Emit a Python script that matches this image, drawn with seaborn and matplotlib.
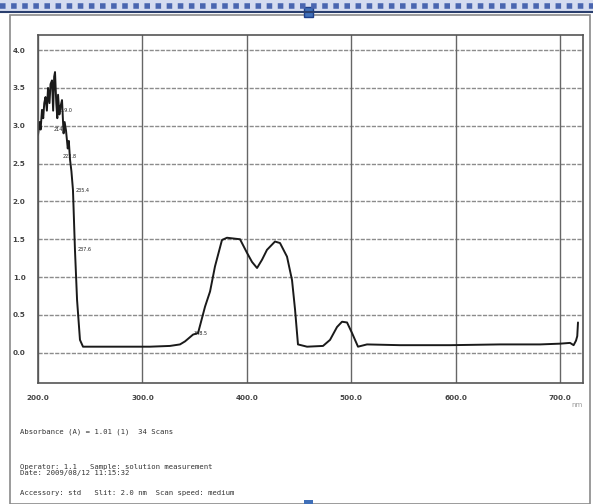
import matplotlib
matplotlib.use("Agg")
import matplotlib.pyplot as plt
import matplotlib.patches as mpatches
from matplotlib.lines import Line2D
import numpy as np
import pandas as pd
import seaborn as sns

# ---- data ----
wavelength_nm = [200.0, 201.5, 202.5, 203.8, 205.0, 206.0, 207.2, 208.5, 209.6, 211.0,
                 212.0, 213.4, 214.5, 215.5, 216.3, 217.5, 218.5, 219.2, 220.5, 221.5,
                 223.0, 224.5, 225.5, 226.8, 228.5, 229.5, 230.7, 232.0, 233.5,
                 235.4, 237.4, 240.2, 243.1, 259.4, 307.3, 326.4, 336.0, 340.8, 348.5,
                 353.3, 360.0, 364.8, 369.5, 376.2, 381.0, 393.5, 400.2, 405.0, 409.8,
                 414.6, 419.3, 427.0, 431.8, 438.5, 443.3, 446.2, 449.0, 457.7, 473.0,
                 479.7, 486.4, 491.2, 496.0, 500.8, 506.5, 515.1, 546.7, 594.6, 642.5,
                 680.8, 700.0, 709.6, 713.0, 715.3, 716.5, 717.2]
absorbance = [2.88, 3.05, 2.95, 3.21, 3.10, 3.30, 3.38, 3.20, 3.50, 3.30,
              3.55, 3.60, 3.20, 3.65, 3.71, 3.30, 3.10, 3.41, 3.15, 3.25,
              3.34, 2.90, 3.05, 2.94, 2.70, 2.80, 2.55, 2.40, 2.15,
              1.36, 0.70, 0.17, 0.08, 0.08, 0.08, 0.09, 0.11, 0.15, 0.24,
              0.26, 0.61, 0.81, 1.14, 1.49, 1.52, 1.50, 1.32, 1.20, 1.12,
              1.23, 1.36, 1.47, 1.45, 1.27, 0.96, 0.57, 0.11, 0.08, 0.09,
              0.17, 0.34, 0.41, 0.40, 0.26, 0.08, 0.11, 0.10, 0.10, 0.11,
              0.11, 0.12, 0.13, 0.10, 0.16, 0.22, 0.40]

x_ticks = [200, 300, 400, 500, 600, 700]
x_tick_labels = ["200.0", "300.0", "400.0", "500.0", "600.0", "700.0"]
y_ticks = [0.0, 0.5, 1.0, 1.5, 2.0, 2.5, 3.0, 3.5, 4.0]
y_tick_labels = ["0.0", "0.5", "1.0", "1.5", "2.0", "2.5", "3.0", "3.5", "4.0"]

peak_wl = [235.4, 237.4, 348.5, 223.0, 214.0, 219.0]
peak_abs = [2.15, 1.36, 0.26, 2.60, 2.95, 3.20]
peak_labels = ["235.4", "237.6", "348.5", "222.8", "214.1", "219.0"]

footer_lines = [
    "Absorbance (A) = 1.01 (1)  34 Scans",
    "Operator: 1.1   Sample: solution measurement\nDate: 2009/08/12 11:15:32",
    "Accessory: std   Slit: 2.0 nm  Scan speed: medium",
]

df = pd.DataFrame({"Wavelength": wavelength_nm, "Abs": absorbance})

sns.set_theme(style="white")
plt.rcParams["font.family"] = ["DejaVu Sans"]

W, H = 593, 504
fig = plt.figure(figsize=(W / 100, H / 100), dpi=100)
fig.patch.set_facecolor("white")

# scanner window frame / top ruler
fig.patches.append(mpatches.Rectangle((10 / W, 0), (580) / W, 1 - 15 / H, transform=fig.transFigure,
                                      fill=False, edgecolor="#8a8a8a", linewidth=1.2))
fig.patches.append(mpatches.Rectangle((0, 1 - 12 / H), 1, 12 / H, transform=fig.transFigure,
                                      facecolor="#d5dcf0", edgecolor="none"))
fig.lines.append(Line2D([0, 1], [1 - 6 / H, 1 - 6 / H], transform=fig.transFigure,
                        color="#4a66b0", linewidth=4, linestyle=(0, (1.0, 1.0))))
fig.lines.append(Line2D([0, 1], [1 - 12 / H, 1 - 12 / H], transform=fig.transFigure,
                        color="#2a3f6e", linewidth=1.5))
fig.patches.append(mpatches.Rectangle((304 / W, 1 - 17 / H), 9 / W, 10 / H, transform=fig.transFigure,
                                      facecolor="#3f6fb8", edgecolor="#1f3f8a"))
fig.patches.append(mpatches.Rectangle((304 / W, 0), 9 / W, 4 / H, transform=fig.transFigure,
                                      facecolor="#3f6fb8", edgecolor="none"))

ax = fig.add_axes([38 / W, (H - 383) / H, (583 - 38) / W, (383 - 35) / H])
sns.lineplot(data=df, x="Wavelength", y="Abs", ax=ax, color="#1a1a1a", linewidth=1.4,
             estimator=None, sort=False)

ax.set_xlim(200, 722)
ax.set_ylim(-0.40, 4.20)
ax.set_xticks(x_ticks)
ax.set_xticklabels(x_tick_labels, fontsize=5.2, fontweight="bold", color="#444444")
ax.set_yticks(y_ticks)
ax.set_yticklabels(y_tick_labels, fontsize=5.2, fontweight="bold", color="#444444")
ax.set_xticks(np.arange(200, 722, 20), minor=True)
ax.set_yticks(np.arange(-0.3, 4.2, 0.1), minor=True)
ax.tick_params(axis="both", which="major", direction="out", length=3, color="#444444", pad=6)
ax.tick_params(axis="both", which="minor", direction="out", length=2, color="#777777")
ax.set_xlabel("")
ax.set_ylabel("")
ax.grid(False)
for yv in y_ticks:
    ax.axhline(yv, color="#8c8c8c", linewidth=1.0, linestyle=(0, (3, 1)), zorder=0)
for xv in x_ticks:
    ax.axvline(xv, color="#666666", linewidth=1.0, zorder=0)
for s in ax.spines.values():
    s.set_color("#555555")
    s.set_linewidth(1.2)

for wl, a, lab in zip(peak_wl, peak_abs, peak_labels):
    ax.text(wl + 1, a, lab, fontsize=3.5, color="#222222", va="center", ha="left")

ax.text(1.0, -0.07, "nm", transform=ax.transAxes, fontsize=5, color="#999999", ha="right")

ys = [432, 470, 493]
for txt, yp in zip(footer_lines, ys):
    fig.text(20 / W, 1 - yp / H, txt, fontsize=5.2, color="#333333", va="center", ha="left",
             family="DejaVu Sans Mono", linespacing=1.1)

fig.savefig("out.png", dpi=100, facecolor="white")
